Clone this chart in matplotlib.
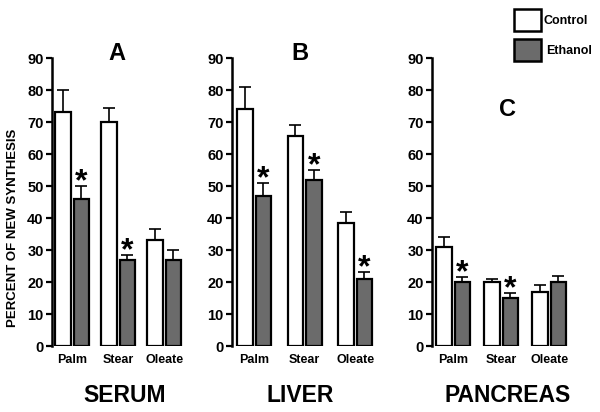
import matplotlib
matplotlib.use("Agg")
import matplotlib.pyplot as plt
from matplotlib.patches import Rectangle

plt.rcParams['font.family'] = ['Liberation Sans', 'DejaVu Sans']

categories = ["Palm", "Stear", "Oleate"]
panels = ["A", "B", "C"]
tissues = ["SERUM", "LIVER", "PANCREAS"]

control = {
    "A": [73, 70, 33],
    "B": [74, 65.5, 38.5],
    "C": [31, 20, 17],
}
control_err = {
    "A": [7, 4.5, 3.5],
    "B": [7, 3.5, 3.5],
    "C": [3, 1, 2],
}
ethanol = {
    "A": [46, 27, 27],
    "B": [47, 52, 21],
    "C": [20, 15, 20],
}
ethanol_err = {
    "A": [4, 1.5, 3],
    "B": [4, 3, 2],
    "C": [1.5, 1.5, 2],
}
signif = {
    "A": [True, True, False],
    "B": [True, True, True],
    "C": [True, True, False],
}

W, H = 600, 412
fig = plt.figure(figsize=(6, 4.12), dpi=100)

# layout (pixels)
spine_x = {"A": 52, "B": 232, "C": 432}
spacing = {"A": 46, "B": 50.5, "C": 48}
y_top, y_bot = 58, 346
xmin, xmax = -0.44, 2.45
title_pos = {"A": (117, 53), "B": (300, 53), "C": (507, 109)}
tissue_x = {"A": 125, "B": 300, "C": 508}

for p, t in zip(panels, tissues):
    sp = spacing[p]
    left = spine_x[p] / W
    width = (xmax - xmin) * sp / W
    ax = fig.add_axes([left, (H - y_bot) / H, width, (y_bot - y_top) / H])
    bw = 15.5 / sp
    off = 18.5 / sp / 2
    xs = list(range(len(categories)))
    xc = [x - off for x in xs]
    xe = [x + off for x in xs]
    ax.bar(xc, control[p], width=bw, color="white", edgecolor="black", linewidth=1.6, zorder=3)
    ax.bar(xe, ethanol[p], width=bw, color="#6b6b6b", edgecolor="black", linewidth=1.6, zorder=3)
    ax.errorbar(xc, control[p], yerr=[[0]*3, control_err[p]], fmt="none", ecolor="black",
                elinewidth=1.2, capsize=4, capthick=1.2, zorder=2)
    ax.errorbar(xe, ethanol[p], yerr=[[0]*3, ethanol_err[p]], fmt="none", ecolor="black",
                elinewidth=1.2, capsize=4, capthick=1.2, zorder=2)
    for i, s in enumerate(signif[p]):
        if s:
            ax.text(xe[i], ethanol[p][i] + ethanol_err[p][i] - 3.5, "*", ha="center", va="bottom",
                    fontsize=23, fontweight="bold", zorder=4)
    ax.set_xlim(xmin, xmax)
    ax.set_ylim(0, 90)
    ax.set_yticks(range(0, 91, 10))
    ax.set_xticks(xs)
    ax.set_xticklabels(categories, fontsize=9, fontweight="bold")
    ax.tick_params(axis="x", length=0, pad=6)
    ax.tick_params(axis="y", length=4, width=1.6, direction="out", labelsize=10.5, pad=2)
    for lab in ax.get_yticklabels():
        lab.set_fontweight("bold")
    for s in ["top", "right", "bottom"]:
        ax.spines[s].set_visible(False)
    ax.spines["left"].set_linewidth(1.8)
    ax.patch.set_alpha(0)
    tx, ty = title_pos[p]
    fig.text(tx / W, 1 - ty / H, p, ha="center", va="center", fontsize=17, fontweight="bold")
    fig.text(tissue_x[p] / W, 1 - 396 / H, t, ha="center", va="center", fontsize=16.5,
             fontweight="bold")

fig.text(13 / W, 1 - 228 / H, "PERCENT OF NEW SYNTHESIS", rotation=90, ha="center", va="center",
         fontsize=9.5, fontweight="bold")

# legend
for yy, fc, lab, tx in [(9, "white", "Control", 544), (39, "#6b6b6b", "Ethanol", 546)]:
    fig.patches.append(Rectangle((514 / W, 1 - (yy + 22) / H), 27 / W, 22 / H, transform=fig.transFigure,
                                 facecolor=fc, edgecolor="black", linewidth=1.8))
    fig.text(tx / W, 1 - (yy + 11.5) / H, lab, ha="left", va="center", fontsize=9, fontweight="bold")

fig.savefig("out.png", dpi=100)
